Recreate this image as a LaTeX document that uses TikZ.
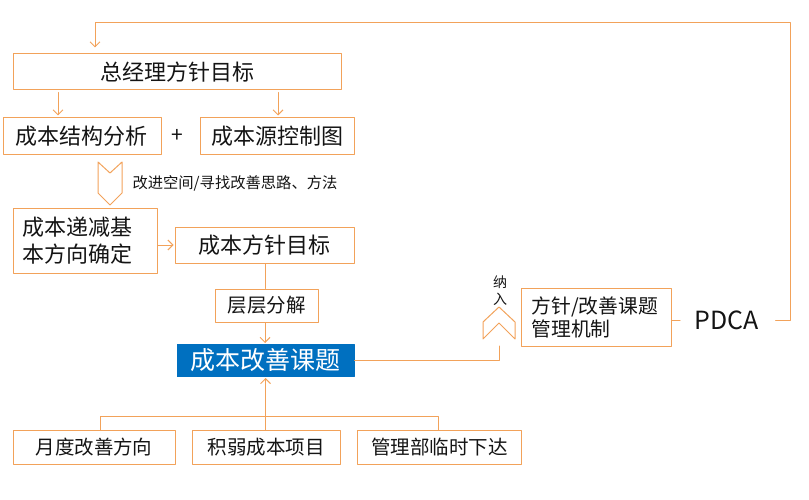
\documentclass[tikz,border=0pt]{standalone}
\usepackage{fontspec}
\setmainfont{Noto Sans CJK SC}
\usetikzlibrary{arrows.meta}
\begin{document}
\begin{tikzpicture}[x=1pt, y=-1pt, line cap=round, line join=round]

    \definecolor{myorange}{RGB}{242,162,90}
    \definecolor{myblue}{RGB}{0,112,192}
    \definecolor{mytext}{RGB}{20,20,20}

    \useasboundingbox (0,0) rectangle (809,500);

    \tikzset{
      box/.style={
        draw=myorange, line width=1pt, text=mytext,
        inner sep=0pt, font=\fontsize{22}{26}\selectfont
      },
      smallbox/.style={box, font=\fontsize{19.5}{23}\selectfont},
      conn/.style={draw=myorange, line width=1pt},
      arr/.style={conn, -{Straight Barb[length=5pt, width=10pt]}}
    }

    % top row
    \node[box, minimum width=328pt, minimum height=36pt] (gm) at (177,72) {总经理方针目标};
    \node[box, minimum width=158pt, minimum height=37pt] (struct) at (82,136.5) {成本结构分析};
    \node[box, minimum width=154pt, minimum height=37pt] (src) at (277,136.5) {成本源控制图};
    \node[text=mytext, font=\fontsize{21}{24}\selectfont] (plus) at (177,136) {+};

    \draw[arr, shorten <=2pt, shorten >=2pt] ([xshift=-119pt]gm.south) -- ([xshift=-119pt]gm.south |- struct.north);
    \draw[arr, shorten <=2pt, shorten >=2pt] ([xshift=101pt]gm.south) -- ([xshift=101pt]gm.south |- src.north);

    % down chevron
    \draw[conn] (98,162) -- (110,173) -- (122,162) -- (122,193) -- (110,205) -- (98,193) -- cycle;
    \node[text=mytext, font=\fontsize{15.3}{18}\selectfont, anchor=west] (hint) at (129,183) {改进空间/寻找改善思路、方法};

    % middle
    \node[box, minimum width=144pt, minimum height=65pt, text width=124pt, align=left,
          font=\fontsize{22}{27}\selectfont] (base) at (85,240.5) {成本递减基\\本方向确定};
    \node[box, minimum width=179pt, minimum height=36pt] (target) at (264.5,245) {成本方针目标};
    \node[smallbox, minimum width=103pt, minimum height=33pt] (split) at (266.5,305.5) {层层分解};
    \node[box, fill=myblue, draw=myblue, text=white, minimum width=177pt, minimum height=32pt,
          font=\fontsize{25}{28}\selectfont] (topic) at (265.5,360.5) {成本改善课题};

    \draw[arr, shorten >=1pt] (base.east |- target.west) -- (target.west);
    \draw[conn] (target.south -| split.north) ++(-1.5pt,0) coordinate (t1) -- (t1 |- split.north);
    \draw[arr, shorten >=1pt] ([xshift=-1.5pt]split.south) -- ([xshift=-1.5pt]split.south |- topic.north);

    % right side
    \draw[conn] (483,322) -- (499,307) -- (515,322) -- (515,339) -- (499,323) -- (483,339) -- cycle;
    \coordinate (chev) at (499,346);
    \node[text=mytext, font=\fontsize{14}{17}\selectfont, align=center] (into) at (500,291) {纳\\入};
    \draw[conn] (topic.east) -- (topic.east -| chev) -- (chev);

    \node[box, minimum width=150pt, minimum height=58pt, text width=130pt, align=left,
          font=\fontsize{19.8}{23}\selectfont] (mech) at (596.5,317.5) {方针/改善课题\\管理机制};
    \node[text=mytext, font=\fontsize{25}{28}\selectfont] (pdca) at (727,320) {PDCA};

    \coordinate (loopA) at (790,23);
    \coordinate (loopB) at (95,23);
    \draw[conn] (mech.east |- pdca.west) -- ++(8pt,0);
    \draw[arr, shorten >=6pt] ([xshift=13pt]pdca.east) -- (pdca.east -| loopA) -- (loopA) -- (loopB) -- (loopB |- gm.north);

    % bottom row
    \node[box, minimum width=162pt, minimum height=34pt, font=\fontsize{19.5}{22}\selectfont] (b1) at (94,447.5) {月度改善方向};
    \node[box, minimum width=148pt, minimum height=34pt, font=\fontsize{19.5}{22}\selectfont] (b2) at (266,447.5) {积弱成本项目};
    \node[box, minimum width=164pt, minimum height=34pt, font=\fontsize{19.5}{22}\selectfont] (b3) at (439.5,447.5) {管理部临时下达};

    \coordinate (barL) at (100,416);
    \coordinate (barR) at (438,416);
    \draw[conn] (barL |- b1.north) -- (barL) -- (barR) -- (barR |- b3.north);
    \draw[arr, shorten >=1pt] (b2.north -| topic.south) -- (topic.south);

\end{tikzpicture}
\end{document}
